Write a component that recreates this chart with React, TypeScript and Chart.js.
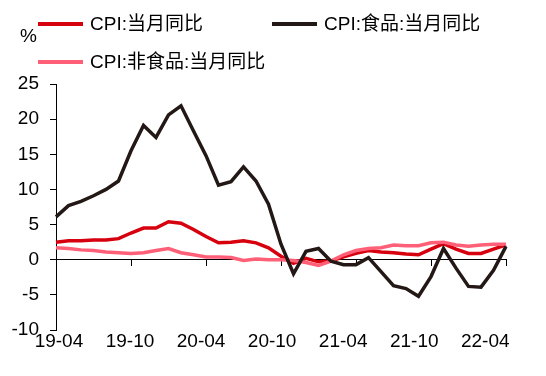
import React, { useEffect, useRef } from "react";
import { Chart, registerables } from "chart.js";

Chart.register(...registerables);

const months = [
  "19-04", "19-05", "19-06", "19-07", "19-08", "19-09", "19-10", "19-11", "19-12",
  "20-01", "20-02", "20-03", "20-04", "20-05", "20-06", "20-07", "20-08", "20-09",
  "20-10", "20-11", "20-12", "21-01", "21-02", "21-03", "21-04", "21-05", "21-06",
  "21-07", "21-08", "21-09", "21-10", "21-11", "21-12", "22-01", "22-02", "22-03", "22-04",
];

const xTickLabels = ["19-04", "19-10", "20-04", "20-10", "21-04", "21-10", "22-04"];
const yTicks = [-10, -5, 0, 5, 10, 15, 20, 25];

const cpi = [
  2.5, 2.7, 2.7, 2.8, 2.8, 3.0, 3.8, 4.5, 4.5,
  5.4, 5.2, 4.3, 3.3, 2.4, 2.5, 2.7, 2.4, 1.7,
  0.5, -0.5, 0.2, -0.3, -0.2, 0.4, 0.9, 1.3, 1.1,
  1.0, 0.8, 0.7, 1.5, 2.3, 1.5, 0.9, 0.9, 1.5, 2.1,
];

const food = [
  6.1, 7.7, 8.3, 9.1, 10.0, 11.2, 15.5, 19.1, 17.4,
  20.6, 21.9, 18.3, 14.8, 10.6, 11.1, 13.2, 11.2, 7.9,
  2.2, -2.0, 1.2, 1.6, -0.2, -0.7, -0.7, 0.3, -1.7,
  -3.7, -4.1, -5.2, -2.4, 1.6, -1.2, -3.8, -3.9, -1.5, 1.9,
];

const nonFood = [
  1.7, 1.6, 1.4, 1.3, 1.1, 1.0, 0.9, 1.0, 1.3,
  1.6, 1.0, 0.7, 0.4, 0.4, 0.3, -0.1, 0.1, 0.0,
  0.0, -0.1, -0.4, -0.8, -0.2, 0.7, 1.3, 1.6, 1.7,
  2.1, 2.0, 2.0, 2.4, 2.5, 2.1, 1.9, 2.1, 2.2, 2.2,
];

const seriesNames = ["CPI:当月同比", "CPI:食品:当月同比", "CPI:非食品:当月同比"];
const RED = "#D7000F";
const BLACK = "#231815";
const PINK = "#FF6078";

const FONT = "Arial, 'Liberation Sans', 'Noto Sans CJK SC', sans-serif";
const FS = 19;

export default function App() {
  const ref = useRef<HTMLCanvasElement | null>(null);

  useEffect(() => {
    if (!ref.current) return;
    const chart = new Chart(ref.current, {
      type: "line",
      data: {
        labels: months,
        datasets: [
          { label: seriesNames[1], data: food, borderColor: BLACK, backgroundColor: BLACK, borderWidth: 3.5, pointRadius: 0, tension: 0, order: 0, xAxisID: "x", yAxisID: "y" },
          { label: seriesNames[2], data: nonFood, borderColor: PINK, backgroundColor: PINK, borderWidth: 3.5, pointRadius: 0, tension: 0, order: 1, xAxisID: "x", yAxisID: "y" },
          { label: seriesNames[0], data: cpi, borderColor: RED, backgroundColor: RED, borderWidth: 3.5, pointRadius: 0, tension: 0, order: 2, xAxisID: "x", yAxisID: "y" },
        ],
      },
      options: {
        animation: false,
        responsive: true,
        maintainAspectRatio: false,
        layout: { padding: { left: 8, right: 40, top: 84, bottom: 0 } },
        plugins: { legend: { display: false }, tooltip: { enabled: false } },
        scales: {
          x: {
            type: "category",
            position: { y: 0 } as any,
            offset: false,
            border: { display: true, color: "#000", width: 1 },
            grid: {
              display: true,
              drawOnChartArea: false,
              drawTicks: true,
              tickLength: 6,
              color: "#000",
              tickColor: (ctx: any) => (ctx.index % 6 === 0 ? "#000" : "rgba(0,0,0,0)"),
              tickWidth: 1,
            },
            ticks: { display: false, autoSkip: false },
          },
          x2: {
            type: "linear",
            position: "bottom",
            axis: "x",
            min: -3 * 6.25 / 450,
            max: 6 + 21 * 6.25 / 450,
            border: { display: false },
            grid: { display: false, drawTicks: false },
            ticks: {
              stepSize: 1,
              autoSkip: false,
              includeBounds: false,
              padding: 0,
              color: "#000",
              font: { family: FONT, size: FS },
              maxRotation: 0,
              callback: (v: any) => (Number.isInteger(v) && xTickLabels[v] ? xTickLabels[v] : ""),
            },
            afterFit: (s: any) => { s.height = 46; },
          },
          y: {
            type: "linear",
            position: "left",
            min: yTicks[0],
            max: yTicks[yTicks.length - 1],
            border: { display: true, color: "#000", width: 1 },
            grid: {
              drawOnChartArea: false,
              drawTicks: true,
              tickLength: 6,
              tickColor: "#000",
              color: "#000",
            },
            afterBuildTicks: (s: any) => { s.ticks = yTicks.map((v) => ({ value: v })); },
            ticks: {
              padding: 11,
              color: "#000",
              font: { family: FONT, size: FS },
            },
            afterFit: (s: any) => { s.width = 48; },
          },
        },
      },
    });
    return () => chart.destroy();
  }, []);

  const legendText: React.CSSProperties = {
    position: "absolute",
    fontFamily: FONT,
    fontSize: FS,
    color: "#000",
    lineHeight: "22px",
    whiteSpace: "nowrap",
  };
  const line = (left: number, top: number, color: string): React.CSSProperties => ({
    position: "absolute",
    left,
    top: top - 2,
    width: 45,
    height: 4,
    background: color,
  });

  return (
    <div style={{ position: "absolute", left: 0, top: 0, width: 546, height: 376, background: "#fff" }}>
      <canvas ref={ref} width={546} height={376} />
      <div style={{ ...legendText, left: 20, top: 25 }}>%</div>
      <div style={line(38, 24, RED)} />
      <div style={{ ...legendText, left: 90, top: 13 }}>{seriesNames[0]}</div>
      <div style={line(272, 24, BLACK)} />
      <div style={{ ...legendText, left: 324, top: 13 }}>{seriesNames[1]}</div>
      <div style={line(38, 62, PINK)} />
      <div style={{ ...legendText, left: 90, top: 51 }}>{seriesNames[2]}</div>
    </div>
  );
}
